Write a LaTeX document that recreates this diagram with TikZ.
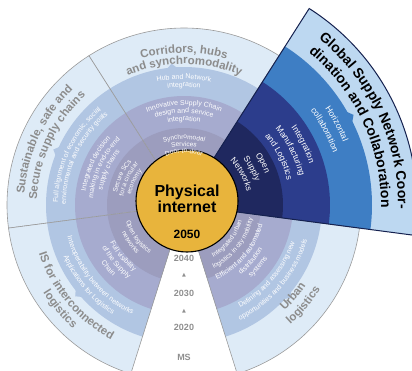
\documentclass[tikz,border=0pt]{standalone}
\usepackage{fontspec}
\setmainfont{Liberation Sans}
\newfontfamily\symbolfont{DejaVu Sans}
\usetikzlibrary{decorations.text}
\definecolor{ringout}{HTML}{DEEBF7}
\definecolor{ringc}{HTML}{B1C6E3}
\definecolor{ringb}{HTML}{A6ABCF}
\definecolor{ringa}{HTML}{9C9DBE}
\definecolor{edgegray}{HTML}{9A9A9A}
\definecolor{bandtext}{HTML}{8C8C8C}
\definecolor{bluelight}{HTML}{BDD8F1}
\definecolor{bluemid}{HTML}{3E7EC4}
\definecolor{navyb}{HTML}{2C3D8C}
\definecolor{navya}{HTML}{1F285F}
\definecolor{navyline}{HTML}{15214F}
\definecolor{coreyellow}{HTML}{E8B43C}
\definecolor{yeargray}{HTML}{8F8F8F}

\newcommand\bandfont{\color{bandtext}\fontsize{11.5}{12}\selectfont\bfseries}
\newcommand\ringfont{\color{white}\fontsize{7}{7}\selectfont}
\newcommand\tinyfont{\color{white}\fontsize{6.5}{6.5}\selectfont}
\newcommand\navyfont{\color{white}\fontsize{8.5}{8.5}\selectfont}
\newcommand\globalfont{\color{black}\fontsize{14}{14}\selectfont\bfseries}
% radius, from angle, to angle, text
\newcommand\arclabel[5]{%
  \path[decorate, decoration={text along path, text align=center, text={|#1|#5}}]
    ([shift={(C)}]#3:#2) arc[start angle=#3, end angle=#4, radius=#2];}

\begin{document}
\begin{tikzpicture}[x=1pt, y=1pt,
  edge/.style     ={draw=edgegray, line width=0.6pt},
  blueedge/.style ={draw=navyline, line width=1pt},
  core/.style     ={circle, fill=coreyellow, draw=black, line width=1.1pt,
                    minimum size=102pt, inner sep=0pt},
  coretext/.style ={align=center, font=\fontsize{16}{16.5}\selectfont\bfseries},
  year/.style     ={text=yeargray, font=\fontsize{9}{9}\selectfont\bfseries},
  tick/.style     ={text=yeargray, font=\symbolfont\fontsize{5}{5}\selectfont}
]
  \useasboundingbox (0,0) rectangle (412,370);
  \coordinate (C) at (184,165);

  % grey sectors
  \foreach \a/\b in {57.5/122.5, 122.5/187.5, 187.5/252.5, 287.5/352.5} {
    \foreach \r/\c in {177/ringout, 138/ringc, 109/ringb, 77/ringa}
      \fill[\c] (C) -- ([shift={(C)}]\a:\r) arc[start angle=\a, end angle=\b, radius=\r] -- cycle;
    \draw[edge] (C) -- ([shift={(C)}]\a:177) arc[start angle=\a, end angle=\b, radius=177] -- cycle;
  }
  % small tabs on the third ring
  \foreach \m in {95, 157, 220, 319}
    \fill[ringc] ([shift={(C)}]\m-2.2:137) -- ([shift={(C)}]\m:142) -- ([shift={(C)}]\m+2.2:137) -- cycle;

  % highlighted sector
  \foreach \r/\c in {233/bluelight, 188/bluemid, 146/navyb, 99/navya}
    \fill[\c] (C) -- ([shift={(C)}]-7.5:\r) arc[start angle=-7.5, end angle=57.5, radius=\r] -- cycle;
  \fill[bluemid] ([shift={(C)}]26:187) -- ([shift={(C)}]28:192) -- ([shift={(C)}]30:187) -- cycle;
  \draw[blueedge] (C) -- ([shift={(C)}]-7.5:233) arc[start angle=-7.5, end angle=57.5, radius=233] -- cycle;

  \node[core] (core) at (187,169) {};
  \node[coretext] (pi) at (187,171) {Physical\\internet};
  \node[font=\fontsize{12}{12}\selectfont\bfseries] (now) at (187,136) {2050};

  \node[year] (y40) at (184,112) {2040};
  \node[tick] (t1)  at (184,95)  {▲};
  \node[year] (y30) at (184,77)  {2030};
  \node[tick] (t2)  at (184,59)  {▲};
  \node[year] (y20) at (184,43)  {2020};
  \node[year] (ms)  at (184,13)  {MS};

  % corridors
  \arclabel{\bandfont}{152}{135}{45}{Corridors, hubs}
  \arclabel{\bandfont}{141}{135}{45}{and synchromodality}
  \arclabel{\ringfont}{126}{135}{45}{Hub and Network}
  \arclabel{\ringfont}{118}{135}{45}{integration}
  \arclabel{\ringfont}{100}{135}{45}{Innovative Supply Chain}
  \arclabel{\ringfont}{92}{135}{45}{design and service}
  \arclabel{\ringfont}{84}{135}{45}{integration}
  \arclabel{\tinyfont}{66}{135}{45}{Synchromodal}
  \arclabel{\tinyfont}{59}{135}{45}{Services}
  \arclabel{\tinyfont}{52}{135}{45}{Door-to-door}

  % sustainable
  \arclabel{\bandfont}{160}{200}{110}{Sustainable, safe and}
  \arclabel{\bandfont}{147}{200}{110}{Secure supply chains}
  \arclabel{\ringfont}{126}{200}{110}{Full alignment of economic, social}
  \arclabel{\ringfont}{118}{200}{110}{environmental and security goals}
  \arclabel{\ringfont}{99}{200}{110}{Integrated decision}
  \arclabel{\ringfont}{91}{200}{110}{making in end-to-end}
  \arclabel{\ringfont}{83}{200}{110}{supply chains}
  \arclabel{\tinyfont}{68}{200}{110}{Secure SCs}
  \arclabel{\tinyfont}{61}{200}{110}{for a circular}
  \arclabel{\tinyfont}{54}{200}{110}{economy}

  % interconnected logistics
  \arclabel{\bandfont}{153}{175}{265}{IS for interconnected}
  \arclabel{\bandfont}{166}{175}{265}{logistics}
  \arclabel{\ringfont}{121}{175}{265}{Interoperability between networks}
  \arclabel{\ringfont}{131}{175}{265}{Applications for Logistics}
  \arclabel{\ringfont}{83}{175}{265}{Full visibility}
  \arclabel{\ringfont}{92}{175}{265}{of the Supply}
  \arclabel{\ringfont}{101}{175}{265}{Chain}
  \arclabel{\tinyfont}{60}{170}{260}{Open logistics}
  \arclabel{\tinyfont}{68}{170}{260}{networks}

  % urban
  \arclabel{\bandfont}{146}{275}{365}{Urban}
  \arclabel{\bandfont}{160}{275}{365}{logistics}
  \arclabel{\ringfont}{117}{275}{365}{Defining and assessing new}
  \arclabel{\ringfont}{128}{275}{365}{opportunities and business models}
  \arclabel{\ringfont}{81}{275}{365}{Efficient and automated}
  \arclabel{\ringfont}{90}{275}{365}{distribution}
  \arclabel{\ringfont}{99}{275}{365}{systems}
  \arclabel{\tinyfont}{60}{277}{367}{Integrated urban}
  \arclabel{\tinyfont}{70}{277}{367}{logistics in city mobility}

  % global coordination
  \arclabel{\navyfont}{87}{73}{-17}{Open}
  \arclabel{\navyfont}{75}{73}{-17}{Supply}
  \arclabel{\navyfont}{64}{73}{-17}{Networks}
  \arclabel{\navyfont}{132}{72}{-18}{Integration}
  \arclabel{\navyfont}{119}{72}{-18}{Manufacturing}
  \arclabel{\navyfont}{106}{72}{-18}{and Logistics}
  \arclabel{\navyfont}{171}{73}{-17}{Horizontal}
  \arclabel{\navyfont}{158}{73}{-17}{collaboration}
  \arclabel{\globalfont}{214}{70}{-20}{Global Supply Network Coor-}
  \arclabel{\globalfont}{197}{70}{-20}{dination and Collaboration}
\end{tikzpicture}
\end{document}
